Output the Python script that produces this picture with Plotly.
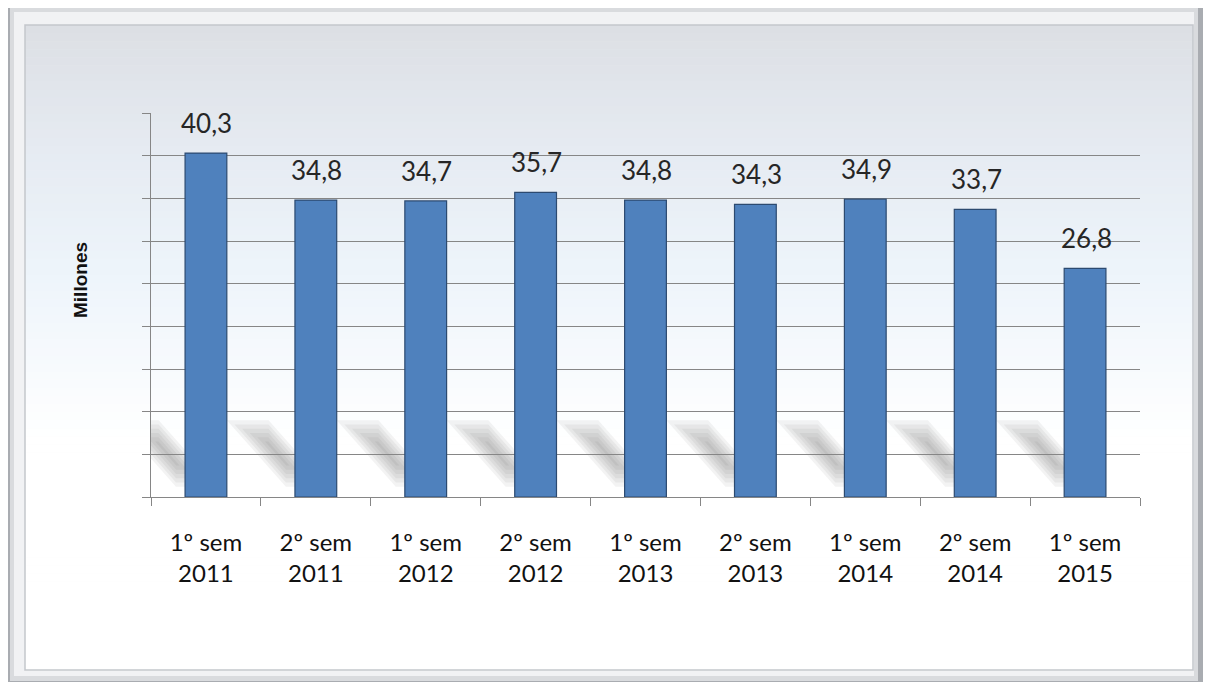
import plotly.graph_objects as go

categories = ["1º sem<br>2011", "2º sem<br>2011", "1º sem<br>2012", "2º sem<br>2012",
              "1º sem<br>2013", "2º sem<br>2013", "1º sem<br>2014", "2º sem<br>2014",
              "1º sem<br>2015"]
values = [40.3, 34.8, 34.7, 35.7, 34.8, 34.3, 34.9, 33.7, 26.8]
value_labels = ["40,3", "34,8", "34,7", "35,7", "34,8", "34,3", "34,9", "33,7", "26,8"]
y_title = "Millones"

# the page body has an 8px margin; work in reference pixel coordinates and shift
OFF = 8
W, H = 1211 - 2 * OFF, 690 - 2 * OFF
L, R, T, B = 151 - OFF, 1211 - 1140 - OFF, 113 - OFF, 690 - 497 - OFF
pw, ph = W - L - R, H - T - B


def px(x):
    return (x - OFF - L) / pw


def py(y):
    return (H - B - (y - OFF)) / ph


shapes = []
# outer frame (bevel)
shapes.append(dict(type="rect", xref="paper", yref="paper", x0=px(6), x1=px(1205), y0=py(687), y1=py(5),
                   fillcolor="#a9acb1", line=dict(color="#8a8c90", width=1), layer="below"))
shapes.append(dict(type="rect", xref="paper", yref="paper", x0=px(10), x1=px(1198), y0=py(681), y1=py(8),
                   fillcolor="#d9dbde", line=dict(width=0), layer="below"))
shapes.append(dict(type="rect", xref="paper", yref="paper", x0=px(14), x1=px(1194), y0=py(676), y1=py(12),
                   fillcolor="#f1f2f4", line=dict(width=0), layer="below"))


def lerp(c1, c2, t):
    return tuple(int(round(a + (b - a) * t)) for a, b in zip(c1, c2))


stops = [(25, (220, 223, 228)), (150, (230, 235, 242)), (280, (238, 245, 251)), (440, (255, 255, 255)), (670, (255, 255, 255))]
ytop, ybot = 25, 670
nb = 80
for i in range(nb):
    y0 = ytop + (ybot - ytop) * i / nb
    y1 = ytop + (ybot - ytop) * (i + 1) / nb
    ym = (y0 + y1) / 2
    for j in range(len(stops) - 1):
        if stops[j][0] <= ym <= stops[j + 1][0]:
            t = (ym - stops[j][0]) / (stops[j + 1][0] - stops[j][0])
            c = lerp(stops[j][1], stops[j + 1][1], t)
            break
    shapes.append(dict(type="rect", xref="paper", yref="paper", x0=px(25), x1=px(1193),
                       y0=py(y1 + 0.5), y1=py(y0), fillcolor="rgb(%d,%d,%d)" % c,
                       line=dict(width=0), layer="below"))
shapes.append(dict(type="rect", xref="paper", yref="paper", x0=px(25), x1=px(1193), y0=py(670), y1=py(25),
                   fillcolor="rgba(0,0,0,0)", line=dict(color="#c4c7cc", width=1.5), layer="below"))

# diagonal soft shadows behind bars (layered to fake a blur)
bw = 0.38
for i in range(len(values)):
    for k in range(6):
        s = k * 0.035
        x0 = i - bw / 2 + s
        x1 = i + bw / 2 - s
        ya, yb = 1.2 + k * 0.5, 9.0 - k * 0.5
        dxa, dxb = -0.62 * ya / 9.0, -0.62 * yb / 9.0
        path = "M %f,%f L %f,%f L %f,%f L %f,%f Z" % (x0 + dxa, ya, x1 + dxa, ya, x1 + dxb, yb, x0 + dxb, yb)
        shapes.append(dict(type="path", xref="x", yref="y", path=path,
                           fillcolor="rgba(90,90,90,0.07)", line=dict(width=0), layer="below"))

fig = go.Figure()
fig.add_trace(go.Bar(
    x=categories, y=values, width=bw,
    marker=dict(color="#4f81bd", line=dict(color="#2c4a70", width=1.2)),
    hoverinfo="skip",
))

annotations = []
for c, v, t in zip(categories, values, value_labels):
    annotations.append(dict(x=c, y=v, text=t, showarrow=False, yshift=30, xshift=1,
                            font=dict(family="Lato, Carlito, sans-serif", size=26, color="#262626")))
annotations.append(dict(xref="paper", yref="paper", x=px(80), y=py(280), xanchor="center", yanchor="middle",
                        text="<b>%s</b>" % y_title, textangle=-90, showarrow=False,
                        font=dict(family="Liberation Sans, Arial, sans-serif", size=19, color="#111111")))

fig.update_layout(
    width=W, height=H,
    margin=dict(l=L, r=R, t=T, b=B, pad=0),
    paper_bgcolor="white", plot_bgcolor="rgba(0,0,0,0)",
    shapes=shapes, annotations=annotations, showlegend=False,
    xaxis=dict(range=[-0.5, len(categories) - 0.5], showline=True, linecolor="#868686", linewidth=1,
               ticks="outside", ticklen=8, tickcolor="#868686", tickson="boundaries", showgrid=False,
               ticklabelstandoff=24,
               tickfont=dict(family="Lato, Carlito, sans-serif", size=24, color="#111111"), fixedrange=True),
    yaxis=dict(range=[0, 45], dtick=5, showline=True, linecolor="#868686", linewidth=1, ticks="outside",
               ticklen=8, tickcolor="#868686", showgrid=True, gridcolor="#868686", gridwidth=1,
               showticklabels=False, zeroline=False, fixedrange=True),
)

fig.write_html("out.html")
